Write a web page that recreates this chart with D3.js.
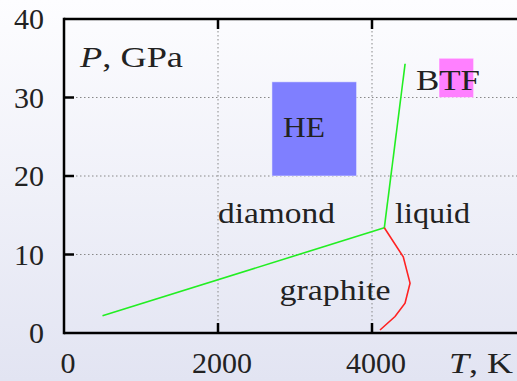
<!DOCTYPE html>
<head>
<meta charset="utf-8">
<title>Carbon phase diagram</title>
<style>
body { margin: 0; }
text {
  font-family: "Liberation Serif", "Times New Roman", serif;
  font-size: 30px;
  fill: #222;
}
.grid line {
  stroke: #888;
  stroke-width: 1px;
  stroke-dasharray: 1.5, 2.5;
}
.frame {
  stroke: #000;
  stroke-width: 2.5px;
}
.tick {
  stroke: #000;
  stroke-width: 2.5px;
}
path.boundary {
  fill: none;
  stroke: #22ee22;
  stroke-width: 1.6px;
}
path.melt {
  fill: none;
  stroke: #ff2222;
  stroke-width: 1.6px;
}
</style>
</head>
<body>
<script src="https://cdn.jsdelivr.net/npm/d3@7"></script>
<script>
// axis ticks
var tTicks = [0, 2000, 4000];
var pTicks = [0, 10, 20, 30, 40];
var tGrid = [2000, 4000];
var pGrid = [10, 20, 30];

// phase boundaries [T in K, P in GPa]
var graphiteDiamond = [[500, 2.2], [4160, 13.4]];
var diamondLiquid = [[4160, 13.4], [4430, 34.3]];
var graphiteMelt = [[4160, 13.4], [4406, 9.7], [4494, 6.35], [4429, 3.8], [4299, 2.1], [4104, 0.38]];

// experimental regions
var regionNames = ["HE", "BTF"];
var regionT = [[2700, 3800], [4870, 5320]];
var regionP = [[20, 32], [30, 35]];
var regionColors = ["#7f7fff", "#ff80ff"];

// phase labels, anchored at the start of the text baseline
var phaseNames = ["diamond", "liquid", "graphite"];
var phaseT = [2000, 4300, 2800];
var phaseP = [14.0, 14.0, 4.2];

var width = 517,
    height = 381;

var x = d3.scaleLinear().domain([0, 6000]).range([64, 526]);
var y = d3.scaleLinear().domain([0, 40]).range([333, 19]);

var svg = d3.select("body").append("svg")
  .attr("width", width)
  .attr("height", height);

// background gradient
var grad = svg.append("defs").append("linearGradient")
  .attr("id", "bg")
  .attr("x1", "0%").attr("y1", "0%")
  .attr("x2", "0%").attr("y2", "100%");
grad.append("stop").attr("offset", "0%").attr("stop-color", "#fdfdff");
grad.append("stop").attr("offset", "100%").attr("stop-color", "#e2e4f2");

svg.append("rect")
  .attr("width", width)
  .attr("height", height)
  .style("fill", "url(#bg)");

// grid
var grid = svg.append("g").attr("class", "grid");
grid.selectAll("line.v")
  .data(tGrid)
  .enter().append("line")
  .attr("x1", d => x(d)).attr("x2", d => x(d))
  .attr("y1", y(40)).attr("y2", y(0));
grid.selectAll("line.h")
  .data(pGrid)
  .enter().append("line")
  .attr("x1", x(0)).attr("x2", width)
  .attr("y1", d => y(d)).attr("y2", d => y(d));

// regions
svg.selectAll("rect.region")
  .data(regionNames)
  .enter().append("rect")
  .attr("class", "region")
  .attr("x", (d, i) => x(regionT[i][0]))
  .attr("y", (d, i) => y(regionP[i][1]))
  .attr("width", (d, i) => x(regionT[i][1]) - x(regionT[i][0]))
  .attr("height", (d, i) => y(regionP[i][0]) - y(regionP[i][1]))
  .style("fill", (d, i) => regionColors[i])
  .style("stroke", "#fff")
  .style("stroke-opacity", 0.5)
  .style("stroke-width", 1);

// Computer Modern is wider than Times, so stretch the words a bit
svg.append("text").attr("x", x(2844)).attr("y", y(25))
  .attr("textLength", 42).attr("lengthAdjust", "spacingAndGlyphs")
  .text(regionNames[0]);
svg.append("text").attr("x", x(4571)).attr("y", y(31))
  .attr("textLength", 64).attr("lengthAdjust", "spacingAndGlyphs")
  .text(regionNames[1]);

// phase labels
var phaseWidths = [117, 75, 111];
svg.selectAll("text.phase")
  .data(phaseNames)
  .enter().append("text")
  .attr("class", "phase")
  .attr("x", (d, i) => x(phaseT[i]))
  .attr("y", (d, i) => y(phaseP[i]))
  .attr("textLength", (d, i) => phaseWidths[i])
  .attr("lengthAdjust", "spacingAndGlyphs")
  .text(d => d);

// boundaries
var line = d3.line().x(d => x(d[0])).y(d => y(d[1]));

svg.append("path").attr("class", "boundary").attr("d", line(graphiteDiamond));
svg.append("path").attr("class", "boundary").attr("d", line(diamondLiquid));
svg.append("path").attr("class", "melt").attr("d", line(graphiteMelt));

// frame
svg.append("line").attr("class", "frame")
  .attr("x1", x(0)).attr("x2", x(0)).attr("y1", y(40) - 1.25).attr("y2", y(0) + 1.25);
svg.append("line").attr("class", "frame")
  .attr("x1", x(0)).attr("x2", width).attr("y1", y(40)).attr("y2", y(40));
svg.append("line").attr("class", "frame")
  .attr("x1", x(0)).attr("x2", width).attr("y1", y(0)).attr("y2", y(0));

// ticks
var tickLen = 10;
svg.selectAll("line.tb")
  .data(tGrid)
  .enter().append("line").attr("class", "tick")
  .attr("x1", d => x(d)).attr("x2", d => x(d))
  .attr("y1", y(0)).attr("y2", y(0) - tickLen);
svg.selectAll("line.tt")
  .data(tGrid)
  .enter().append("line").attr("class", "tick")
  .attr("x1", d => x(d)).attr("x2", d => x(d))
  .attr("y1", y(40)).attr("y2", y(40) + tickLen);
svg.selectAll("line.tl")
  .data(pGrid)
  .enter().append("line").attr("class", "tick")
  .attr("x1", x(0)).attr("x2", x(0) + tickLen)
  .attr("y1", d => y(d)).attr("y2", d => y(d));

// tick labels
svg.selectAll("text.tlab")
  .data(tTicks)
  .enter().append("text")
  .attr("x", d => x(d) + 4)
  .attr("y", 373)
  .attr("text-anchor", "middle")
  .text(d => d);

svg.selectAll("text.plab")
  .data(pTicks)
  .enter().append("text")
  .attr("x", 44)
  .attr("y", d => y(d) + 10)
  .attr("text-anchor", "end")
  .text(d => d);

// axis titles
var pt = svg.append("text").attr("x", 80).attr("y", 67)
  .attr("textLength", 103).attr("lengthAdjust", "spacingAndGlyphs");
pt.append("tspan").style("font-style", "italic").text("P");
pt.append("tspan").text(", GPa");

var tt = svg.append("text").attr("x", 449).attr("y", 373)
  .attr("textLength", 64).attr("lengthAdjust", "spacingAndGlyphs");
tt.append("tspan").style("font-style", "italic").text("T");
tt.append("tspan").text(", K");
</script>
</body>
</html>
